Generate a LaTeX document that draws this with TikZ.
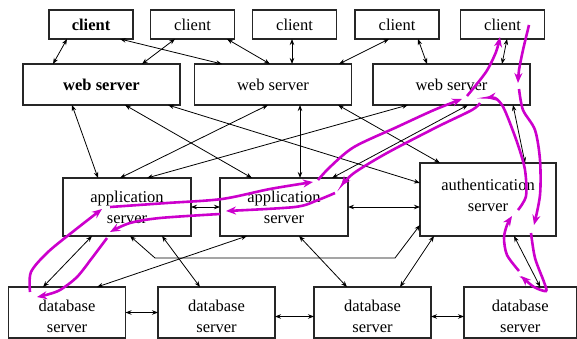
\documentclass[tikz,border=0pt]{standalone}
\usepackage{fontspec}
\setmainfont{Liberation Serif}
\usepackage{tikz}
\usetikzlibrary{arrows.meta}
\definecolor{trace}{RGB}{204,0,204}

\begin{document}
\begin{tikzpicture}[x=1pt,y=-1pt,>={Stealth[length=6pt,width=4.5pt]},
  font=\fontsize{16.5}{21}\selectfont,
  box/.style={rectangle,draw=black!85,line width=1.1pt,inner sep=0pt,outer sep=0pt,align=center},
  client/.style={box,minimum width=84pt,minimum height=29pt},
  web/.style={box,minimum width=157pt,minimum height=41pt},
  app/.style={box,minimum width=128pt,minimum height=58pt},
  db/.style={box,minimum width=117pt,minimum height=51pt,text height=40pt},
  link/.style={<->,line width=0.8pt},
  hop/.style={draw=trace,line width=2.6pt,-{Stealth[length=10pt,width=8pt]}}]
\useasboundingbox (0,0) rectangle (577,339);
% boxes
\node (client1) at (91,24.5)    [client,line width=2.2pt] {\textbf{client}};
\node (client2) at (192.5,24.5) [client] {client};
\node (client3) at (294.5,24.5) [client] {client};
\node (client4) at (397,24.5)   [client] {client};
\node (client5) at (502.5,24.5) [client] {client};
\node (web1) at (101.5,84.5) [web,line width=2.2pt] {\textbf{web server}};
\node (web2) at (273,84.5)   [web] {web server};
\node (web3) at (451.5,84.5) [web] {web server};
\node (app1) at (127,207)    [app] {application\\server};
\node (app2) at (284,207)    [app] {application\\server};
\node (auth) at (488,199.5)  [box,minimum width=136pt,minimum height=73pt,text depth=9pt] {authentication\\server};
\node (db1) at (67,312.5)     [db] {database\\server};
\node (db2) at (216.5,312.5)  [db] {database\\server};
\node (db3) at (372.5,312.5)  [db] {database\\server};
\node (db4) at (520.25,312.5) [db,minimum width=112.5pt] {database\\server};
% clients -- web servers
\draw [link] ([xshift=-24pt]client1.south)  -- ([xshift=-48.5pt]web1.north);
\draw [link] ([xshift=29pt]client1.south)   -- ([xshift=-51pt]web2.north);
\draw [link] ([xshift=-17.5pt]client2.south) -- ([xshift=40.5pt]web1.north);
\draw [link] ([xshift=34.5pt]client2.south) -- ([xshift=-3pt]web2.north);
\draw [link] ([xshift=-2.5pt]client3.south) -- ([xshift=19pt]web2.north);
\draw [link] ([xshift=-8pt]client4.south)   -- ([xshift=66pt]web2.north);
\draw [link] ([xshift=21pt]client4.south)   -- ([xshift=-24.5pt]web3.north);
\draw [link] ([xshift=4.5pt]client5.south)  -- ([xshift=50.5pt]web3.north);
% web servers -- application servers
\draw [link] ([xshift=-29.5pt]web1.south) -- ([xshift=-29pt]app1.north);
\draw [link] ([xshift=23.5pt]web1.south)  -- ([xshift=-32pt]app2.north);
\draw [link] ([xshift=66.5pt]web1.south)  -- ([yshift=16.5pt]auth.west);
\draw [link] ([xshift=-5pt]web2.south)    -- ([xshift=-7pt]app1.north);
\draw [link] ([xshift=-43.5pt]web3.south) -- ([xshift=20pt]app1.north);
\draw [link] ([xshift=27pt]web2.south)    -- ([xshift=16pt]app2.north);
\draw [link] ([xshift=65pt]web2.south)    -- ([xshift=-48pt]auth.north);
\draw [link] ([xshift=16.5pt]web3.south)  -- ([xshift=48pt]app2.north);
\draw [link] ([xshift=61.5pt]web3.south)  -- ([xshift=37pt]auth.north);
\draw [link] (app1.east) -- (app2.west);
\draw [link] (app2.east) -- (app2.east -| auth.west);
% application servers -- database servers
\draw [link] ([xshift=-35pt]app1.south) -- ([xshift=-24pt]db1.north);
\draw [link] ([xshift=3pt]app1.south) -- (155,258) -- (395,258) -- ([yshift=11pt]auth.south west);
\draw [link] ([xshift=35pt]app1.south)  -- ([xshift=-16.5pt]db2.north);
\draw [link] ([xshift=-37pt]app2.south) -- ([xshift=30pt]db1.north);
\draw [link] ([xshift=15pt]app2.south)  -- ([xshift=-25.5pt]db3.north);
\draw [link] ([xshift=-54pt]auth.south) -- ([xshift=27.5pt]db3.north);
\draw [link] ([xshift=26pt]auth.south)  -- ([xshift=20pt]db4.north);
\draw [link] (db1.east) -- (db2.west);
\draw [link] ([yshift=-4pt]db2.east) -- ([yshift=-4pt]db3.west);
\draw [link] ([yshift=-4pt]db3.east) -- ([yshift=-4pt]db4.west);
% request trace
\draw [hop] plot [smooth] coordinates {(529,25) (523,50) (519,70) (518,83)};
\draw [hop] plot [smooth] coordinates {(519,89) (523,110) (535,130) (540,160) (540,195) (534,225)};
\draw [hop] plot [smooth] coordinates {(531,233) (535,258) (544,282) (546,291) (534,287) (521,276)};
\draw [hop] plot [smooth] coordinates {(519,271) (507,255) (504,238) (507,225) (512,216)};
\draw [hop] plot [smooth] coordinates {(518,210) (526,196) (525,170) (518,145) (508,118) (502,105) (495,98) (486,98)};
\draw [hop] plot [smooth] coordinates {(480,103) (472,110) (437,127) (387,153) (354,173) (341,186)};
\draw [hop] plot [smooth] coordinates {(335,193) (318,200) (295,207) (226,211)};
\draw [hop] plot [smooth] coordinates {(220,214) (160,218) (130,223) (110,232)};
\draw [hop] plot [smooth] coordinates {(107,238) (92,258) (77,277) (60,290) (46,295) (37,297)};
\draw [hop] plot [smooth] coordinates {(30,292) (31,272) (48,252) (75,230) (102,209)};
\draw [hop] plot [smooth] coordinates {(110,207) (167,203) (222,199) (270,189) (313,182)};
\draw [hop] plot [smooth] coordinates {(318,180) (330,167) (354,147) (397,127) (434,110) (462,99)};
\draw [hop] plot [smooth] coordinates {(467,96) (486,72) (496,52) (500,37)};
\end{tikzpicture}
\end{document}
